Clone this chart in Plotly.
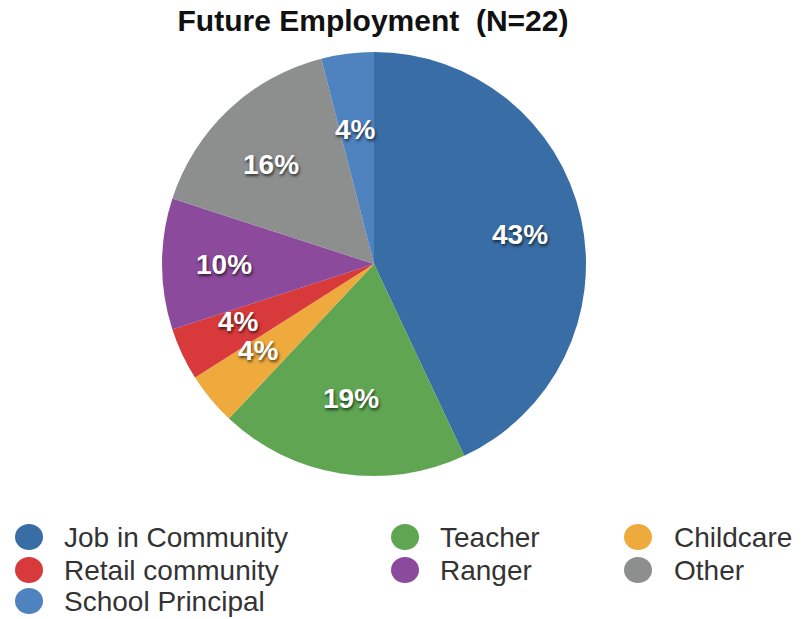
import math
import plotly.graph_objects as go

# Survey responses: future employment (percent of respondents)
categories = ["Job in Community", "Teacher", "Childcare", "Retail community",
              "Ranger", "Other", "School Principal"]
shares = [43, 19, 4, 4, 10, 16, 4]
colors = ["#386da6", "#5fa552", "#eeaa3d", "#d8393a", "#8b4a9c", "#8d8e8e", "#4f83bf"]

W, H = 808, 619
CX, CY, R = 374, 264, 212          # pie centre / radius in pixels
LABEL_RX, LABEL_RY = 150, 136       # where the percent labels sit

fig = go.Figure(
    go.Pie(
        labels=categories,
        values=shares,
        sort=False,
        direction="clockwise",
        rotation=0,
        marker=dict(colors=colors, line=dict(width=0)),
        textinfo="none",
        hoverinfo="label+value",
        showlegend=False,
        domain=dict(x=[(CX - R) / W, (CX + R) / W],
                    y=[1 - (CY + R) / H, 1 - (CY - R) / H]),
    )
)

annotations = []
shapes = []

# Percent labels placed along each slice's mid-angle
total = sum(shares)
cum = 0
for v in shares:
    mid = (cum + v / 2) / total * 2 * math.pi
    cum += v
    px = CX + LABEL_RX * math.sin(mid)
    py = CY - LABEL_RY * math.cos(mid)
    annotations.append(dict(
        x=px / W, y=1 - py / H, xref="paper", yref="paper",
        text=f"{v}%", showarrow=False, xanchor="center", yanchor="middle",
        font=dict(family="Liberation Sans", size=28, color="white",
                  weight="bold", shadow="1px 2px 3px rgba(0,0,0,0.65)"),
    ))

# Three-column legend under the pie
col_marker_x = [29, 405, 638]
col_text_x = [63, 439, 673]
row_y = [537, 570, 601]
for i, (name, col) in enumerate(zip(categories, colors)):
    c, r = i % 3, i // 3
    mx, my = col_marker_x[c] / W, 1 - row_y[r] / H
    shapes.append(dict(
        type="circle", xref="paper", yref="paper",
        xsizemode="pixel", ysizemode="pixel",
        xanchor=mx, yanchor=my, x0=-14, x1=14, y0=-13, y1=13,
        fillcolor=col, line=dict(width=0),
    ))
    annotations.append(dict(
        x=col_text_x[c] / W, y=my, xref="paper", yref="paper",
        text=name, showarrow=False, xanchor="left", yanchor="middle",
        borderpad=0,
        font=dict(family="Liberation Sans", size=28, color="#333333"),
    ))

fig.update_layout(
    width=W, height=H,
    margin=dict(l=0, r=0, t=0, b=0),
    paper_bgcolor="white",
    plot_bgcolor="white",
    title=dict(
        text="Future Employment\u00a0\u00a0(N=22)",
        x=373 / W, xanchor="center", y=1 - 20 / H, yanchor="middle",
        font=dict(family="Liberation Sans", size=30, color="#111111", weight="bold"),
    ),
    annotations=annotations,
    shapes=shapes,
)

fig.write_html("out.html")
